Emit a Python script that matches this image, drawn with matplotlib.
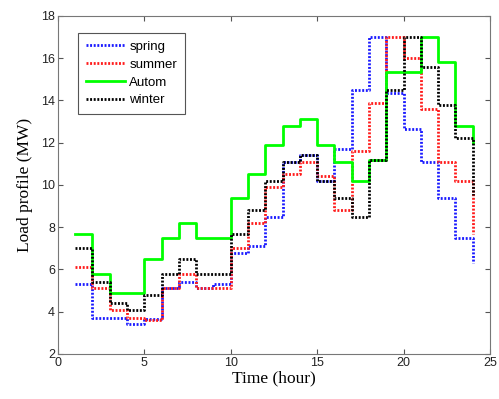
import matplotlib
matplotlib.use("Agg")
import matplotlib.pyplot as plt

# heures 1..24
hours = list(range(1, 25))

# profils de charge (MW)
spring = [5.3, 3.7, 3.7, 3.4, 3.65, 5.1, 5.4, 5.1, 5.3, 6.8, 7.1, 8.5,
          11.1, 11.4, 10.2, 11.7, 14.5, 17.0, 14.35, 12.65, 11.1, 9.4, 7.5, 6.3]
summer = [6.1, 5.1, 4.1, 3.7, 3.6, 5.1, 5.8, 5.1, 5.1, 7.0, 8.2, 9.9,
          10.5, 11.1, 10.4, 8.8, 11.6, 13.9, 17.0, 16.0, 13.6, 11.1, 10.2, 7.7]
autom = [7.7, 5.8, 4.9, 4.9, 6.5, 7.5, 8.2, 7.5, 7.5, 9.4, 10.5, 11.9,
         12.8, 13.1, 11.9, 11.1, 10.2, 11.2, 15.35, 15.35, 17.0, 15.8, 12.8, 12.0]
winter = [7.0, 5.4, 4.4, 4.1, 4.8, 5.8, 6.5, 5.8, 5.8, 7.7, 8.8, 10.2,
          11.1, 11.4, 10.2, 9.4, 8.5, 11.2, 14.5, 17.0, 15.6, 13.8, 12.2, 9.5]

plt.rcParams['font.family'] = ['Liberation Sans', 'DejaVu Sans']

fig = plt.figure(figsize=(4.99, 3.99), dpi=100)
ax = fig.add_axes([0.116, 0.113, 0.866, 0.847])

dots = (0, (0.7, 0.6))  # pointillé serré comme matlab ':'

# escaliers comme stairs() de matlab
ax.plot(hours, spring, drawstyle='steps-post', color='#1a1aff', ls=dots, lw=2, label='spring')
ax.plot(hours, summer, drawstyle='steps-post', color='#ff1a1a', ls=dots, lw=2, label='summer')
ax.plot(hours, autom, drawstyle='steps-post', color='#00ff00', ls='-', lw=2, label='Autom')
ax.plot(hours, winter, drawstyle='steps-post', color='black', ls=dots, lw=2, label='winter')

ax.set_xlim(0, 25)
ax.set_ylim(2, 18)
ax.set_xticks([0, 5, 10, 15, 20, 25])
ax.set_yticks([2, 4, 6, 8, 10, 12, 14, 16, 18])
ax.tick_params(direction='in', top=True, right=True, labelsize=9, length=3.5, pad=2,
               color='#555555', labelcolor='#222222')
for s in ax.spines.values():
    s.set_color('#777777')

ax.set_xlabel('Time (hour)', family='Liberation Serif', fontsize=12.5, labelpad=1)
ax.set_ylabel('Load profile (MW)', family='Liberation Serif', fontsize=12.5, labelpad=6)

leg = ax.legend(loc='upper left', bbox_to_anchor=(0.046, 0.95), fontsize=9.5, fancybox=False,
                edgecolor='#555555', handlelength=3.0, handletextpad=0.3, labelspacing=0.42,
                borderpad=0.6, borderaxespad=0, framealpha=1)
leg.get_frame().set_linewidth(0.8)

fig.savefig('out.png', dpi=100)
